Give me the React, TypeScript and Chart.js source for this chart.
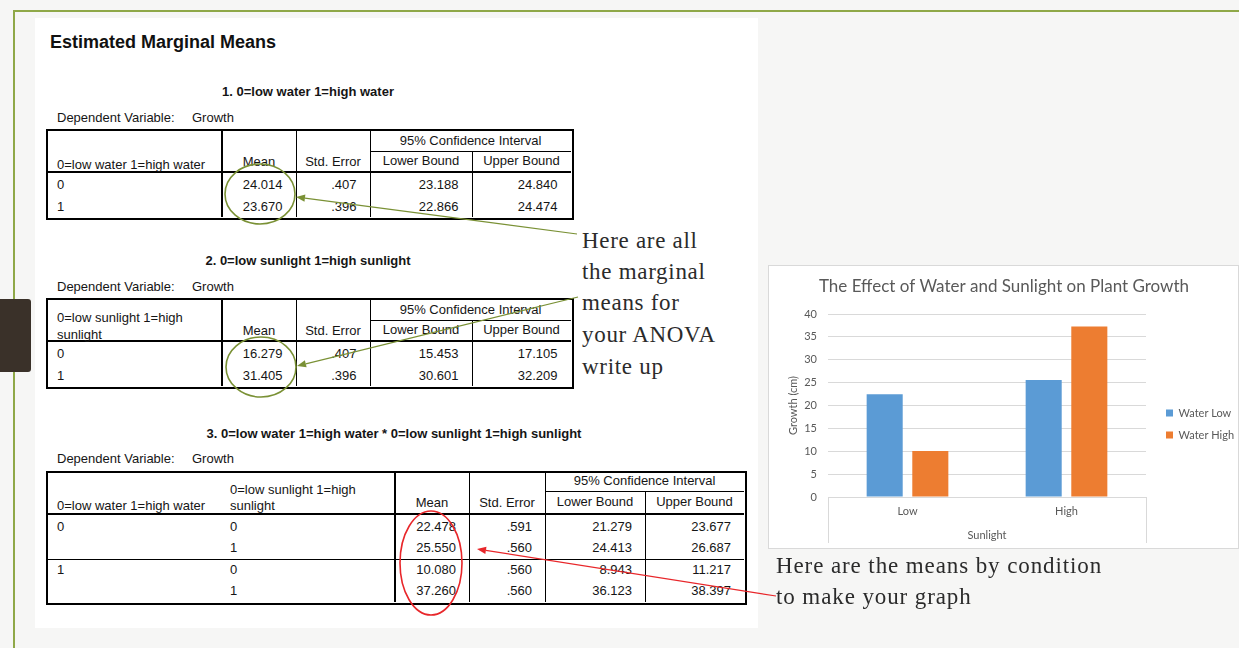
import React, { useEffect, useRef } from 'react';
import { Chart, registerables } from 'chart.js';

Chart.register(...registerables);

// ---------- chart data ----------
const categories = ['Low', 'High'];
const seriesNames = ['Water Low', 'Water High'];
const waterLowMeans = [22.478, 25.55];
const waterHighMeans = [10.08, 37.26];
const seriesColors = ['#5b9bd5', '#ed7d31'];
const yMin = 0;
const yMax = 40;
const yStep = 5;
const chartTitle = 'The Effect of Water and Sunlight on Plant Growth';
const xAxisTitle = 'Sunlight';
const yAxisTitle = 'Growth (cm)';

// ---------- table data ----------
const table1Title = '1. 0=low water 1=high water';
const table1Rows = [
  ['0', '24.014', '.407', '23.188', '24.840'],
  ['1', '23.670', '.396', '22.866', '24.474'],
];
const table2Title = '2. 0=low sunlight 1=high sunlight';
const table2Rows = [
  ['0', '16.279', '.407', '15.453', '17.105'],
  ['1', '31.405', '.396', '30.601', '32.209'],
];
const table3Title = '3. 0=low water 1=high water * 0=low sunlight 1=high sunlight';
const table3Rows = [
  ['0', '0', '22.478', '.591', '21.279', '23.677'],
  ['', '1', '25.550', '.560', '24.413', '26.687'],
  ['1', '0', '10.080', '.560', '8.943', '11.217'],
  ['', '1', '37.260', '.560', '36.123', '38.397'],
];

const SANS = '"Liberation Sans", Arial, sans-serif';
const SERIF = '"Liberation Serif", "Times New Roman", serif';
const CHART_FONT = 'Lato, "Open Sans", sans-serif';
const INK = '#151515';

type TProps = {
  x: number; y: number; children: React.ReactNode; align?: 'left' | 'right' | 'center';
  size?: number; bold?: boolean; color?: string; family?: string; ls?: number;
};
function T({ x, y, children, align = 'left', size = 13, bold = false, color = INK, family = SANS, ls = 0 }: TProps) {
  const w = 900;
  let left = x;
  if (align === 'right') left = x - w;
  else if (align === 'center') left = x - w / 2;
  return (
    <div
      style={{
        position: 'absolute', left, top: y - size, width: w, height: size * 2,
        lineHeight: `${size * 2}px`, textAlign: align, fontSize: size,
        fontWeight: bold ? 700 : 400, color, fontFamily: family, whiteSpace: 'pre',
        letterSpacing: ls,
      }}
    >
      {children}
    </div>
  );
}

function HL({ x0, x1, y, w = 1 }: { x0: number; x1: number; y: number; w?: number }) {
  return <div style={{ position: 'absolute', left: x0, top: y - w / 2, width: x1 - x0, height: w, background: '#000' }} />;
}
function VL({ x, y0, y1, w = 1 }: { x: number; y0: number; y1: number; w?: number }) {
  return <div style={{ position: 'absolute', left: x - w / 2, top: y0, width: w, height: y1 - y0, background: '#000' }} />;
}
function Box({ x0, x1, y0, y1 }: { x0: number; x1: number; y0: number; y1: number }) {
  return (
    <div style={{ position: 'absolute', left: x0 - 1, top: y0 - 1, width: x1 - x0, height: y1 - y0, border: '2px solid #000' }} />
  );
}

function MarginalTable({ top, title, header, rows }: { top: number; title: string; header: string[]; rows: string[][] }) {
  const cols = [47, 222, 296, 370, 472, 571];
  const bottom = top + 87;
  return (
    <>
      <T x={308} y={top - 38} align="center" bold>{title}</T>
      <T x={57} y={top - 12}>Dependent Variable:</T>
      <T x={192} y={top - 12}>Growth</T>
      <Box x0={cols[0]} x1={cols[5]} y0={top} y1={bottom} />
      <VL x={cols[1]} y0={top} y1={bottom} w={2} />
      <VL x={cols[2]} y0={top} y1={bottom} />
      <VL x={cols[3]} y0={top} y1={bottom} />
      <VL x={cols[4]} y0={top + 21} y1={bottom} />
      <HL x0={cols[3]} x1={cols[5]} y={top + 21} />
      <HL x0={cols[0]} x1={cols[5]} y={top + 42} w={2} />
      {header.length === 1 ? (
        <T x={57} y={top + 35}>{header[0]}</T>
      ) : (
        <>
          <T x={57} y={top + 19}>{header[0]}</T>
          <T x={57} y={top + 36}>{header[1]}</T>
        </>
      )}
      <T x={(cols[1] + cols[2]) / 2} y={top + 32} align="center">Mean</T>
      <T x={(cols[2] + cols[3]) / 2} y={top + 32} align="center">Std. Error</T>
      <T x={(cols[3] + cols[5]) / 2} y={top + 11} align="center">95% Confidence Interval</T>
      <T x={(cols[3] + cols[4]) / 2} y={top + 31} align="center">Lower Bound</T>
      <T x={(cols[4] + cols[5]) / 2} y={top + 31} align="center">Upper Bound</T>
      {rows.map((r, i) => {
        const y = top + 55 + i * 22;
        return (
          <React.Fragment key={i}>
            <T x={57} y={y}>{r[0]}</T>
            {r.slice(1).map((v, j) => (
              <T key={j} x={cols[j + 2] - 13.5} y={y} align="right">{v}</T>
            ))}
          </React.Fragment>
        );
      })}
    </>
  );
}

function InteractionTable() {
  const top = 472;
  const bottom = 602;
  const cols = [47, 226, 395, 469, 545, 645, 744];
  const rowY = [527, 548, 570, 591];
  return (
    <>
      <T x={394} y={434} align="center" bold>{table3Title}</T>
      <T x={57} y={459}>Dependent Variable:</T>
      <T x={192} y={459}>Growth</T>
      <Box x0={cols[0]} x1={cols[6]} y0={top} y1={bottom} />
      <VL x={cols[2]} y0={top} y1={bottom} w={2} />
      <VL x={cols[3]} y0={top} y1={bottom} />
      <VL x={cols[4]} y0={top} y1={bottom} />
      <VL x={cols[5]} y0={top + 19} y1={bottom} />
      <HL x0={cols[4]} x1={cols[6]} y={top + 19} />
      <HL x0={cols[0]} x1={cols[6]} y={top + 42} w={2} />
      <HL x0={cols[0]} x1={cols[6]} y={559} />
      <T x={57} y={506}>0=low water 1=high water</T>
      <T x={230} y={490}>0=low sunlight 1=high</T>
      <T x={230} y={506}>sunlight</T>
      <T x={(cols[2] + cols[3]) / 2} y={503} align="center">Mean</T>
      <T x={(cols[3] + cols[4]) / 2} y={503} align="center">Std. Error</T>
      <T x={(cols[4] + cols[6]) / 2} y={481} align="center">95% Confidence Interval</T>
      <T x={(cols[4] + cols[5]) / 2} y={502} align="center">Lower Bound</T>
      <T x={(cols[5] + cols[6]) / 2} y={502} align="center">Upper Bound</T>
      {table3Rows.map((r, i) => (
        <React.Fragment key={i}>
          <T x={57} y={rowY[i]}>{r[0]}</T>
          <T x={230} y={rowY[i]}>{r[1]}</T>
          {r.slice(2).map((v, j) => (
            <T key={j} x={cols[j + 3] - 13} y={rowY[i]} align="right">{v}</T>
          ))}
        </React.Fragment>
      ))}
    </>
  );
}

function Arrow({ x1, y1, x2, y2, color, width = 1.2, head = 9, headW = 3.6 }: any) {
  const dx = x2 - x1;
  const dy = y2 - y1;
  const len = Math.hypot(dx, dy);
  const ux = dx / len;
  const uy = dy / len;
  const bx = x2 - ux * head;
  const by = y2 - uy * head;
  const px = -uy * headW;
  const py = ux * headW;
  return (
    <g>
      <line x1={x1} y1={y1} x2={bx} y2={by} stroke={color} strokeWidth={width} />
      <polygon points={`${x2},${y2} ${bx + px},${by + py} ${bx - px},${by - py}`} fill={color} />
    </g>
  );
}

function GrowthChart() {
  const ref = useRef<HTMLCanvasElement>(null);
  useEffect(() => {
    const canvas = ref.current;
    if (!canvas) return;
    const legendFontSize = 11;
    const legendPad = 11;
    const legendBox = 7;
    const measureCtx = document.createElement('canvas').getContext('2d')!;
    measureCtx.font = `${legendFontSize}px ${CHART_FONT}`;
    const maxText = Math.max(...seriesNames.map((s) => measureCtx.measureText(s).width));
    const legendWidth = 2 * legendPad + legendBox + legendFontSize / 2 + maxText;
    const legendZone = 94;
    const padRight = Math.max(0, legendZone - legendWidth);

    const placement = {
      id: 'placement',
      afterLayout(chart: any) {
        const lg = chart.legend;
        if (lg) {
          const target = chart.chartArea.right + 20 - legendPad;
          const dx = target - lg.left;
          lg.left += dx;
          lg.right += dx;
          lg.top += 16.5;
          lg.bottom += 16.5;
        }
        const tb = chart.titleBlock;
        if (tb) {
          tb.left = 0;
          tb.right = chart.width;
          tb.width = chart.width;
        }
      },
    };

    const gray = '#595959';
    const grid = '#d9d9d9';
    const chart = new Chart(canvas, {
      type: 'bar',
      data: {
        labels: categories,
        datasets: [
          { label: seriesNames[0], data: waterLowMeans, backgroundColor: seriesColors[0], categoryPercentage: 0.574, barPercentage: 0.79 },
          { label: seriesNames[1], data: waterHighMeans, backgroundColor: seriesColors[1], categoryPercentage: 0.574, barPercentage: 0.79 },
        ],
      },
      options: {
        responsive: false,
        animation: false,
        devicePixelRatio: 1,
        layout: { padding: { top: 0, left: 0, right: padRight, bottom: 0 } },
        plugins: {
          title: {
            display: true,
            text: chartTitle,
            color: gray,
            font: { family: CHART_FONT, size: 17, weight: 'normal' },
            padding: { top: 10.8, bottom: 16.8 },
          },
          legend: {
            position: 'right',
            labels: {
              boxWidth: legendBox,
              boxHeight: legendBox,
              padding: legendPad,
              color: gray,
              font: { family: CHART_FONT, size: legendFontSize },
            },
          },
          tooltip: { enabled: false },
        },
        scales: {
          x: {
            grid: {
              display: true,
              drawOnChartArea: false,
              drawTicks: true,
              tickLength: 46,
              offset: true,
              color: (c: any) => (c.index === 1 ? 'rgba(0,0,0,0)' : grid),
            },
            border: { display: true, color: grid },
            ticks: { padding: -38, color: gray, font: { family: CHART_FONT, size: 11 } },
            title: {
              display: true,
              text: xAxisTitle,
              color: gray,
              font: { family: CHART_FONT, size: 11 },
              padding: { top: 0, bottom: 7.4 },
            },
            afterFit: (s: any) => { s.height = 52; },
          },
          y: {
            min: yMin,
            max: yMax,
            ticks: { stepSize: yStep, padding: 11, color: gray, font: { family: CHART_FONT, size: 11 } },
            grid: { color: grid, drawTicks: false },
            border: { display: false },
            title: {
              display: true,
              text: yAxisTitle,
              color: gray,
              font: { family: CHART_FONT, size: 11 },
              padding: { top: 17.4, bottom: 0 },
            },
            afterFit: (s: any) => { s.width = 59; },
          },
        },
      },
      plugins: [placement],
    } as any);
    return () => chart.destroy();
  }, []);
  return (
    <canvas
      ref={ref}
      width={470}
      height={283}
      style={{ position: 'absolute', left: 769, top: 266, width: 470, height: 283, display: 'block' }}
    />
  );
}

export default function App() {
  const green = '#7a9135';
  const red = '#e8262a';
  return (
    <div style={{ position: 'absolute', left: 0, top: 0, width: 1239, height: 648, overflow: 'hidden', background: '#f6f6f5' }}>
      {/* slide frame */}
      <div style={{ position: 'absolute', left: 13, top: 10, width: 1226, height: 2, background: '#8fa848' }} />
      <div style={{ position: 'absolute', left: 13, top: 10, width: 2, height: 638, background: '#8fa848' }} />
      <div style={{ position: 'absolute', left: 0, top: 299, width: 31, height: 73, background: '#3a3129', borderRadius: '0 3px 3px 0' }} />

      {/* white panel */}
      <div style={{ position: 'absolute', left: 35, top: 18, width: 723, height: 610, background: '#ffffff' }} />

      <T x={50} y={42} size={18} bold color="#111">Estimated Marginal Means</T>

      <MarginalTable top={130} title={table1Title} header={['0=low water 1=high water']} rows={table1Rows} />
      <MarginalTable top={299} title={table2Title} header={['0=low sunlight 1=high', 'sunlight']} rows={table2Rows} />
      <InteractionTable />

      {/* annotations */}
      <svg width={1239} height={648} style={{ position: 'absolute', left: 0, top: 0 }}>
        <ellipse cx={260} cy={194} rx={35} ry={30} fill="none" stroke={green} strokeWidth={1.6} />
        <ellipse cx={261} cy={367} rx={35} ry={30} fill="none" stroke={green} strokeWidth={1.6} />
        <Arrow x1={577} y1={234} x2={296} y2={197} color={green} />
        <Arrow x1={578} y1={297} x2={297} y2={366} color={green} />
        <ellipse cx={431} cy={563} rx={31} ry={52} fill="none" stroke={red} strokeWidth={1.6} />
        <Arrow x1={776} y1={596} x2={477} y2={549} color={red} />
      </svg>

      <T x={582} y={241} size={23} family={SERIF} color="#2b2b2b" ls={0.7}>Here are all</T>
      <T x={582} y={272} size={23} family={SERIF} color="#2b2b2b" ls={0.7}>the marginal</T>
      <T x={582} y={303} size={23} family={SERIF} color="#2b2b2b" ls={0.7}>means for</T>
      <T x={582} y={335} size={23} family={SERIF} color="#2b2b2b" ls={0.7}>your ANOVA</T>
      <T x={582} y={367} size={23} family={SERIF} color="#2b2b2b" ls={0.7}>write up</T>

      {/* chart box */}
      <div style={{ position: 'absolute', left: 768, top: 265, width: 471, height: 284, background: '#fff', border: '1px solid #d9d9d9', boxSizing: 'border-box' }} />
      <GrowthChart />

      <T x={776} y={566} size={23} family={SERIF} color="#2b2b2b" ls={0.9}>Here are the means by condition</T>
      <T x={776} y={597} size={23} family={SERIF} color="#2b2b2b" ls={0.9}>to make your graph</T>
    </div>
  );
}
